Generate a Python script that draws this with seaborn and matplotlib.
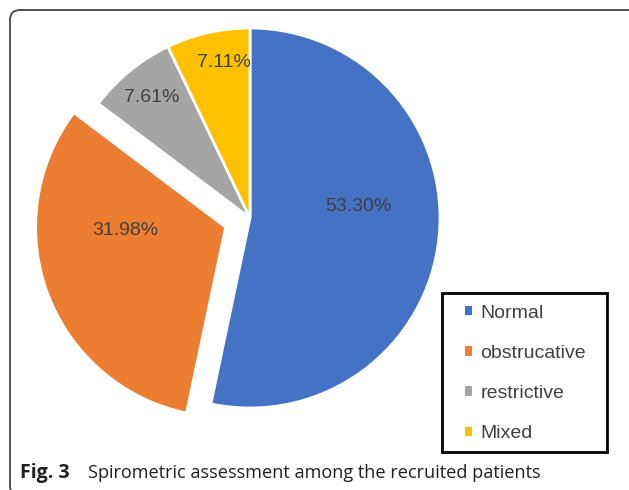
import matplotlib
matplotlib.use("Agg")
import matplotlib.pyplot as plt
import seaborn as sns
from matplotlib.patches import FancyBboxPatch, Rectangle, Patch

categories = ["Normal", "obstrucative", "restrictive", "Mixed"]
values = [53.30, 31.98, 7.61, 7.11]
pct_labels = ["53.30%", "31.98%", "7.61%", "7.11%"]
caption_bold = "Fig. 3"
caption_text = "Spirometric assessment among the recruited patients"

colors = ["#4472C4", "#ED7D31", "#A5A5A5", "#FFC000"]
explode = [0, 0.137, 0, 0]
# label positions (data units, pie radius = 1)
label_pos = [(0.568, 0.058), (-0.658, -0.068), (-0.516, 0.632), (-0.137, 0.821)]

sns.set_style("white")
plt.rcParams["font.family"] = ["Liberation Sans", "DejaVu Sans"]

W, H = 629, 490
fig = plt.figure(figsize=(W / 100, H / 100), dpi=100)

# pie axes: center (250, 218) px, radius 190 px
cx, cy, r = 250, 218, 190
lim = 1.3
size = 2 * lim * r
ax = fig.add_axes([(cx - lim * r) / W, (H - cy - lim * r) / H, size / W, size / H])
wedges, _ = ax.pie(values, colors=colors, startangle=90, counterclock=False,
                   explode=explode, radius=1,
                   wedgeprops=dict(edgecolor="white", linewidth=2))
ax.set_xlim(-lim, lim)
ax.set_ylim(-lim, lim)
ax.set_aspect("equal")
ax.axis("off")
for w in wedges:
    w.set_clip_on(False)

for lab, (x, y) in zip(pct_labels, label_pos):
    ax.text(x, y, lab, ha="center", va="center", fontsize=14, color="#404040")

# outer frame (right and bottom edges fall outside the image)
frame = FancyBboxPatch((10, -6), 640, 486, boxstyle="round,pad=0,rounding_size=10",
                       transform=None, facecolor="none", edgecolor="#444444",
                       linewidth=1.3)
fig.patches.append(frame)

# legend box
lx0, ly0, lx1, ly1 = 442, 293, 607, 452
box = Rectangle((lx0 / W, 1 - ly1 / H), (lx1 - lx0) / W, (ly1 - ly0) / H,
                transform=fig.transFigure, facecolor="white", edgecolor="black",
                linewidth=2)
fig.patches.append(box)
handles = [Patch(facecolor=c, edgecolor="none") for c in colors]
leg = fig.legend(handles, categories, loc="upper left",
                 bbox_to_anchor=(455 / W, 1 - 295 / H), frameon=False,
                 fontsize=14, handlelength=0.36, handleheight=0.36,
                 handletextpad=0.45, labelspacing=1.19, borderpad=0,
                 labelcolor="#404040")

# caption
fig.text(20 / W, 1 - 478 / H, caption_bold, fontsize=14, fontweight="bold",
         family=["Open Sans", "DejaVu Sans"], color="#231F20", va="baseline")
fig.text(88 / W, 1 - 478 / H, caption_text, fontsize=13.1,
         family=["Open Sans", "DejaVu Sans"], color="#231F20", va="baseline")

fig.savefig("out.png", dpi=100)
